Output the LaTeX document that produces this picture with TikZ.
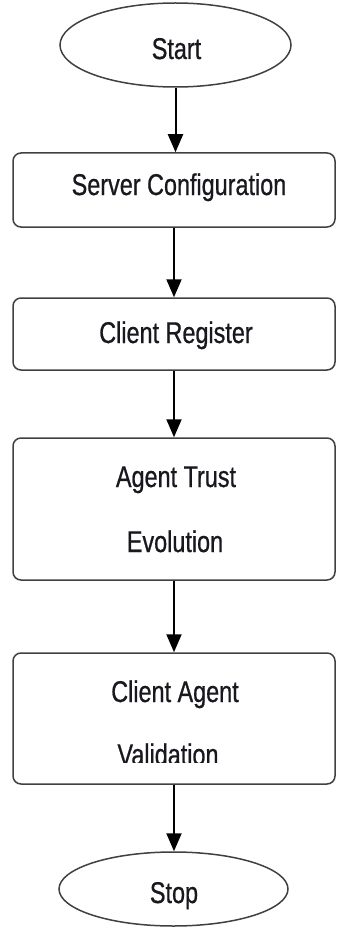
\documentclass[tikz,border=0pt]{standalone}
\usepackage{fontspec}
\setmainfont[FakeStretch=0.78,FakeBold=0.7]{Liberation Sans}
\usetikzlibrary{shapes.geometric,arrows.meta}
\definecolor{linegray}{HTML}{404040}
\definecolor{textdark}{HTML}{18181F}
\tikzset{
  terminal/.style={draw=linegray, line width=1.5pt, ellipse, inner sep=0pt},
  procbox/.style={draw=linegray, line width=1.5pt, rounded corners=8pt, rectangle, inner sep=0pt, minimum width=322pt},
  lbl/.style={anchor=base, inner sep=0pt, text=textdark, font=\fontsize{30}{36}\selectfont},
  arr/.style={draw=black, line width=2pt, -{Triangle[width=15pt,length=18pt]}}
}
\begin{document}
\begin{tikzpicture}[x=1pt,y=-1pt]
\useasboundingbox (0,0) rectangle (337,928);
% shapes
\node[terminal, minimum width=231pt, minimum height=84pt] (start) at (175.5,45) {};
\node[procbox, minimum height=74pt] (server) at (174,190) {};
\node[procbox, minimum height=72pt] (register) at (174,334) {};
\node[procbox, minimum height=142pt] (agent) at (174,509) {};
\node[procbox, minimum height=131pt] (valid) at (174,718.5) {};
\node[terminal, minimum width=229pt, minimum height=74pt] (stop) at (173.5,889) {};
% texts
\node[lbl] (tstart) at (176.5,59) {Start};
\node[lbl] (tserver) at (179,195) {Server Configuration};
\node[lbl] (tregister) at (176,343) {Client Register};
\node[lbl] (tagent1) at (176,487) {Agent Trust};
\node[lbl] (tagent2) at (175,552) {Evolution};
\node[lbl] (tvalid1) at (175,702) {Client Agent};
\begin{scope}
\clip (0,600) rectangle (337,762);
\node[lbl] (tvalid2) at (168,765) {Validation};
\end{scope}
\node[lbl] (tstop) at (174,903) {Stop};
% connectors
\draw[arr] (start.south) -- (start.south |- server.north);
\draw[arr] (server.south) -- (register.north);
\draw[arr] (register.south) -- (agent.north);
\draw[arr] (agent.south) -- (valid.north);
\draw[arr] (valid.south) -- (valid.south |- stop.north);
\end{tikzpicture}
\end{document}
